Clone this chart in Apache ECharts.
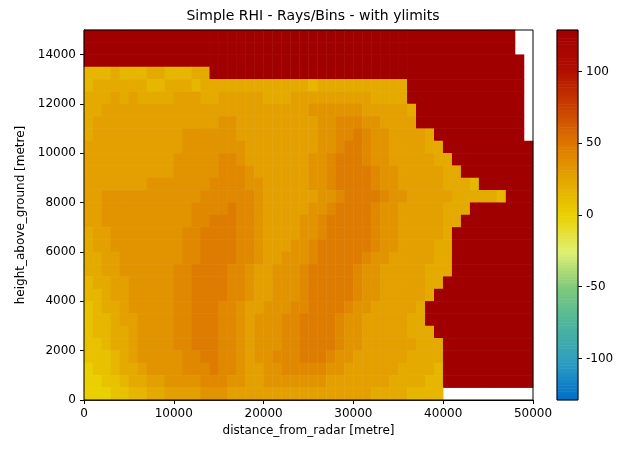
<!DOCTYPE html>
<html>
<head>
<meta charset="utf-8">
<script src="https://cdn.jsdelivr.net/npm/echarts@6/dist/echarts.min.js"></script>
<style>html,body{margin:0;padding:0;background:#fff}#root{width:633px;height:453px}</style>
</head>
<body>
<div id="root"></div>
<script>
// 50 columns of 1000 m (distance), 30 rows of 500 m (height, top row first)
// codes map to reflectivity-like values; R = saturated ; row padded with R
const codeValues = { '1': 0, '2': 8, '3': 15, '4': 22, '5': 28, '6': 34, '7': 40, '8': 47, '9': 54, 'R': 127 };
const rows = [
  '',
  '',
  '',
  '33343334433344',
  '344444433444344444444444434444444444',
  '444545444455544555554445555555554444',
  '4455555555555555555555555666666555554',
  '4555555555555556655555555566777665555',
  '455555555556666665555555556677876655554',
  '5555555555566666665555555566788766555544',
  '55555555556666677655555556678887665555544',
  '555555555566666777655555566788887665555544',
  '55555556666666777766555556678888766555554443',
  '55666666666667777776555555667888876655555444443',
  '5566666666667777877655555667888876655555444',
  '556666666666778887765555667888887665555544',
  '45566666666778888776555566788888766555554',
  '45566666666778888776555667888888766555544',
  '44556666666778888776556667888887665555544',
  '44556666667788887765566678888876655555444',
  '3445566666778888776556667888887665555544',
  '334556666677888877655666788888766555554',
  '23445666667788877655666778888766555554',
  '23345566667788877656667788887665555544',
  '233445666677888776566677888876655555444',
  '2234456666778887765666778888766555555444',
  '2223456666677887765667778887665555554444',
  '1223445666677787765566777776655555544443',
  '1122344556666777665566666665555555444433',
  '1112233445555666555555555555555544443333'
];
// column index where the blank (no data) area starts in each row
const blankFrom = [48, 48, 49, 49, 49, 49, 49, 49, 49, 50, 50, 50, 50, 50, 50, 50, 50, 50, 50, 50, 50, 50, 50, 50, 50, 50, 50, 50, 50, 40];
const nCols = 50;
const cbTicks = [-100, -50, 0, 50, 100];

const data = [];
rows.forEach((s, r) => {
  for (let c = 0; c < blankFrom[r]; c++) {
    const ch = s[c] || 'R';
    data.push([c, rows.length - 1 - r, codeValues[ch]]);
  }
});
const xCats = Array.from({ length: nCols }, (_, i) => i);
const yCats = Array.from({ length: rows.length }, (_, i) => i);
const cbLevels = [];
for (let v = -128; v <= 128; v += 2) cbLevels.push(v);

const font = { color: '#000', fontSize: 12, fontFamily: 'DejaVu Sans' };
const chart = echarts.init(document.getElementById('root'));
chart.setOption({
  animation: false,
  title: { text: 'Simple RHI - Rays/Bins - with ylimits', left: 308, top: 4, textAlign: 'center',
    textStyle: { fontSize: 14, fontWeight: 'normal', color: '#000', fontFamily: 'DejaVu Sans' } },
  grid: [
    { left: 84, top: 30, width: 449, height: 370, show: true, borderColor: '#000', borderWidth: 1, backgroundColor: 'transparent', z: 10 },
    { left: 557, top: 30, width: 21, height: 370, show: true, borderColor: '#000', borderWidth: 1, backgroundColor: 'transparent', z: 10 }
  ],
  xAxis: [
    { type: 'value', gridIndex: 0, min: 0, max: 50000, interval: 10000,
      name: 'distance_from_radar [metre]', nameLocation: 'middle', nameGap: 25, nameTextStyle: font,
      axisLine: { onZero: false, lineStyle: { color: '#000' } }, axisTick: { show: true, length: 4, lineStyle: { color: '#000' } },
      axisLabel: Object.assign({ formatter: v => String(v) }, font), splitLine: { show: false } },
    { type: 'category', gridIndex: 0, data: xCats, show: false },
    { type: 'category', gridIndex: 1, data: [0], show: false }
  ],
  yAxis: [
    { type: 'value', gridIndex: 0, min: 0, max: 15000, interval: 2000,
      name: 'height_above_ground [metre]', nameLocation: 'middle', nameGap: 46, nameTextStyle: font,
      axisLine: { show: true, lineStyle: { color: '#000' } }, axisTick: { show: true, length: 4, lineStyle: { color: '#000' } },
      axisLabel: Object.assign({ showMaxLabel: false, formatter: v => String(v) }, font), splitLine: { show: false } },
    { type: 'category', gridIndex: 0, data: yCats, show: false },
    { type: 'category', gridIndex: 1, data: cbLevels, show: false },
    { type: 'value', gridIndex: 1, min: -129, max: 129, position: 'right',
      axisLine: { show: false }, 
      axisTick: { show: true, length: 4, customValues: cbTicks, lineStyle: { color: '#000' } },
      axisLabel: Object.assign({ customValues: cbTicks }, font), splitLine: { show: false } }
  ],
  visualMap: {
    show: false, min: -128, max: 128, seriesIndex: [0, 1], dimension: 2,
    inRange: { color: ['#0070c8', '#2f9ec0', '#4cb49c', '#7ec97c', '#e0f070', '#ead000',
      '#e4a400', '#dc7400', '#c83c00', '#b00c00', '#a00000'] }
  },
  series: [
    { type: 'heatmap', xAxisIndex: 1, yAxisIndex: 1, data: data, progressive: 0 },
    { type: 'heatmap', xAxisIndex: 2, yAxisIndex: 2, data: cbLevels.map((v, i) => [0, i, v]), progressive: 0 }
  ]
});
</script>
</body>
</html>
